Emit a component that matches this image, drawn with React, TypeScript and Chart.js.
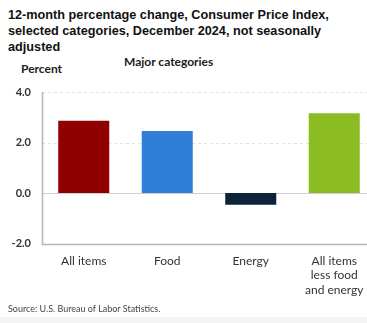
import React, { useEffect, useRef } from "react";
import { Chart, registerables } from "chart.js";

Chart.register(...registerables);

const categories: (string | string[])[] = ["All items", "Food", "Energy", ["All items", "less food", "and energy"]];
const values: number[] = [2.9, 2.5, -0.5, 3.2];
const barColors: string[] = ["#910000", "#2f7ed8", "#0d233a", "#8bbc21"];
const yTicks: number[] = [-2, 0, 2, 4];

const titleLines = [
  "12-month percentage change, Consumer Price Index,",
  "selected categories, December 2024, not seasonally",
  "adjusted",
];

const gridPlugin = {
  id: "customGrid",
  beforeDatasetsDraw(chart: any) {
    const { ctx, chartArea, scales } = chart;
    const y = scales.y;
    const right = 367;
    ctx.save();
    yTicks.forEach((v) => {
      const py = Math.round(y.getPixelForValue(v)) + 0.5;
      if (v === -2) return;
      ctx.beginPath();
      if (v === 0) {
        ctx.setLineDash([]);
        ctx.strokeStyle = "#cfcfcf";
      } else {
        ctx.setLineDash([3, 3]);
        ctx.strokeStyle = "#e0e0e0";
      }
      ctx.lineWidth = 1;
      ctx.moveTo(chartArea.left, py);
      ctx.lineTo(right, py);
      ctx.stroke();
    });
    ctx.setLineDash([]);
    ctx.strokeStyle = "#b5b5b5";
    ctx.lineWidth = 1.5;
    ctx.beginPath();
    const bx = Math.round(chartArea.left) + 0.5;
    const by = Math.round(y.getPixelForValue(-2)) + 0.5;
    ctx.moveTo(bx, Math.round(y.getPixelForValue(4)));
    ctx.lineTo(bx, by);
    ctx.lineTo(right, by);
    ctx.stroke();
    ctx.restore();
  },
};

export default function App() {
  const ref = useRef<HTMLCanvasElement>(null);
  useEffect(() => {
    document.body.style.margin = "0";
    document.body.style.background = "#ffffff";
    const chart = new Chart(ref.current!, {
      type: "bar",
      data: {
        labels: categories,
        datasets: [
          {
            data: values,
            backgroundColor: barColors,
            borderColor: "rgba(255,255,255,0.35)",
            borderWidth: 1,
            categoryPercentage: 1,
            barPercentage: 0.635,
          },
        ],
      },
      options: {
        responsive: false,
        animation: false,
        events: [],
        layout: { padding: { top: 92, left: 0, right: 0, bottom: 0 } },
        plugins: { legend: { display: false }, tooltip: { enabled: false } },
        scales: {
          x: {
            grid: { display: false, drawTicks: false },
            border: { display: false },
            ticks: {
              padding: 10,
              color: "#333333",
              font: { family: "Lato", size: 12, weight: "normal", lineHeight: 1.22 },
              maxRotation: 0,
              autoSkip: false,
            },
            afterFit: (s: any) => {
              s.height = 79.5;
            },
          },
          y: {
            min: -2,
            max: 4,
            grid: { display: false, drawTicks: false },
            border: { display: false },
            ticks: {
              stepSize: 2,
              padding: 11,
              color: "#333333",
              font: { family: "Lato", size: 11, weight: "bold" },
              callback: (v: any) => Number(v).toFixed(1),
            },
            afterFit: (s: any) => {
              s.width = 42;
            },
          },
        },
      },
      plugins: [gridPlugin],
    });
    return () => chart.destroy();
  }, []);

  return (
    <div style={{ position: "relative", width: 367, height: 323, overflow: "hidden", background: "#fff" }}>
      <div
        style={{
          position: "absolute",
          left: 8,
          top: 7,
          fontFamily: "'Liberation Sans', Arial, sans-serif",
          fontWeight: "bold",
          fontSize: 12.7,
          lineHeight: "16px",
          color: "#111",
          whiteSpace: "nowrap",
        }}
      >
        {titleLines.map((l, i) => (
          <div key={i}>{l}</div>
        ))}
      </div>
      <div
        style={{
          position: "absolute",
          left: 124,
          top: 54,
          fontFamily: "Lato, sans-serif",
          fontWeight: "bold",
          fontSize: 12,
          color: "#222",
          whiteSpace: "nowrap",
        }}
      >
        Major categories
      </div>
      <div
        style={{
          position: "absolute",
          left: 21,
          top: 61,
          fontFamily: "Lato, sans-serif",
          fontWeight: "bold",
          fontSize: 12,
          color: "#222",
          whiteSpace: "nowrap",
        }}
      >
        Percent
      </div>
      <canvas ref={ref} width={376} height={323} style={{ position: "absolute", left: 0, top: 0 }} />
      <div
        style={{
          position: "absolute",
          left: 8,
          top: 303,
          fontFamily: "Lato, sans-serif",
          fontSize: 9,
          color: "#444",
          whiteSpace: "nowrap",
        }}
      >
        Source: U.S. Bureau of Labor Statistics.
      </div>
      <div style={{ position: "absolute", left: 0, top: 317, width: 367, height: 6, background: "#f4f4f4" }} />
    </div>
  );
}
